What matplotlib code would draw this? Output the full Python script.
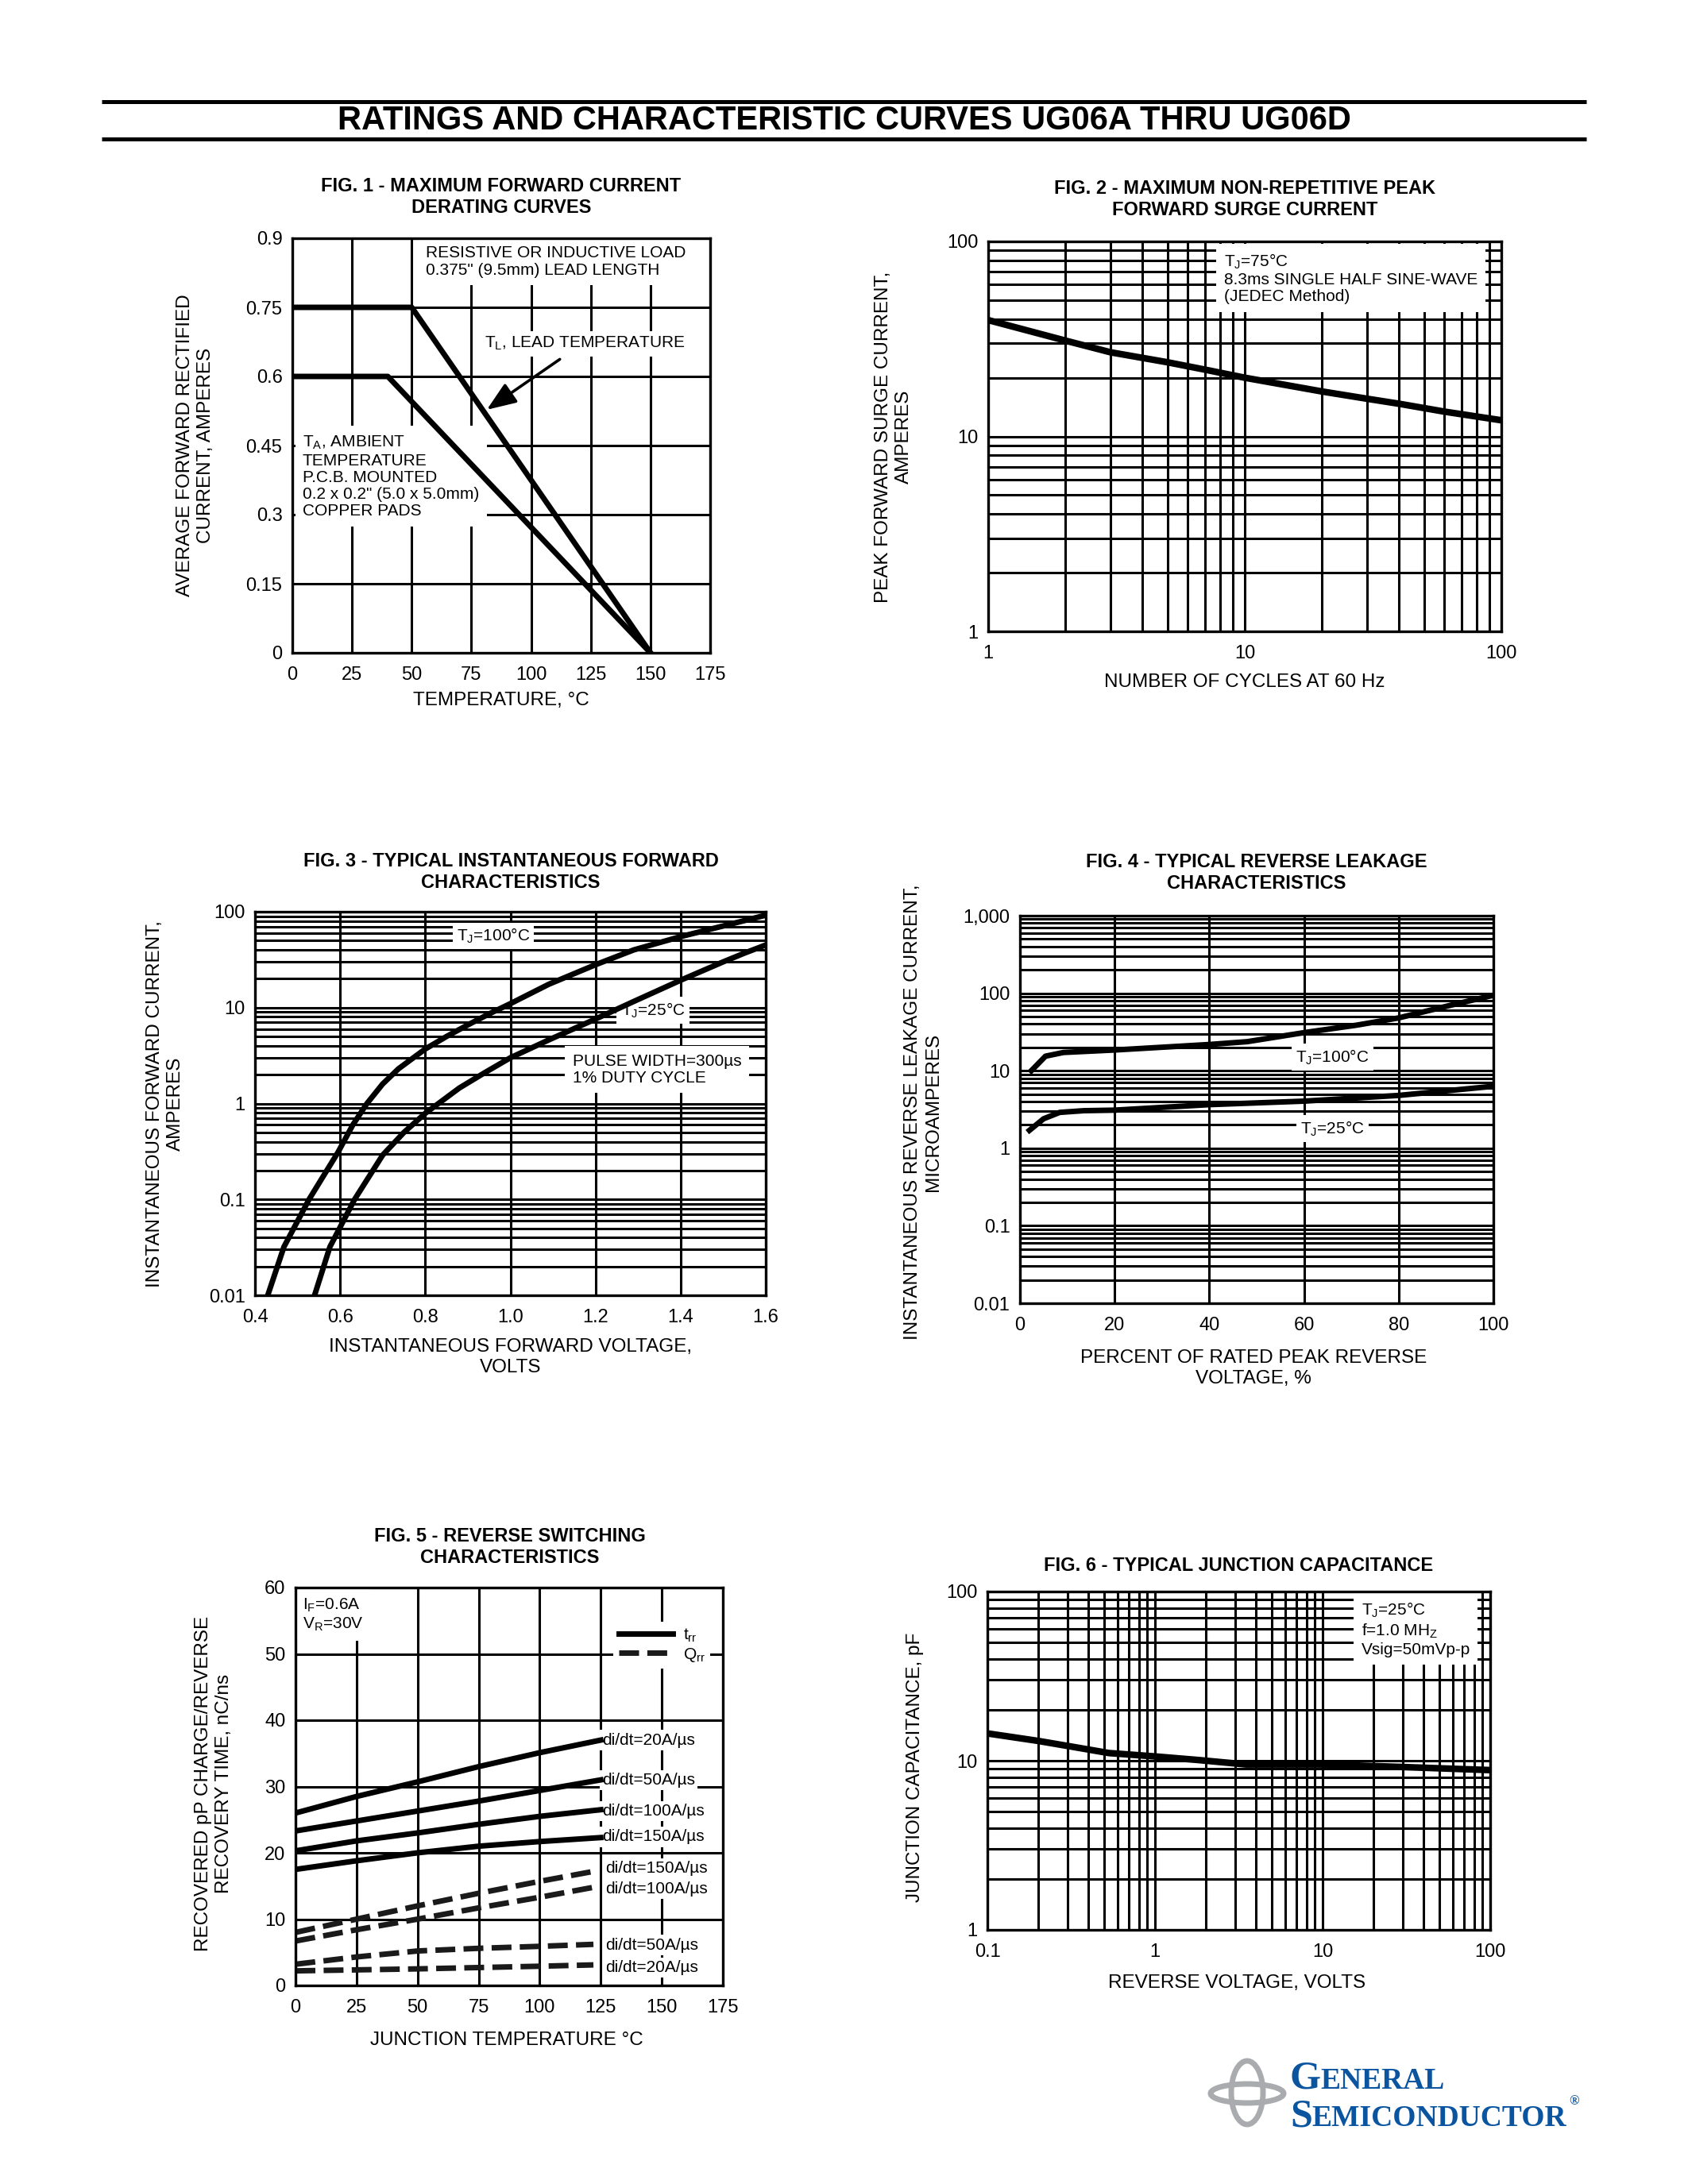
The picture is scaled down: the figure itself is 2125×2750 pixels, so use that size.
"""UG06A-UG06D ratings and characteristic curves page"""
import matplotlib
matplotlib.use("Agg")
import matplotlib.pyplot as plt
from matplotlib.patches import Ellipse
from matplotlib.ticker import LogLocator, NullFormatter
import numpy as np

W, H = 2125, 2750
plt.rcParams["font.family"] = ["Liberation Sans", "DejaVu Sans"]
plt.rcParams["mathtext.default"] = "regular"

# ---- data ----
# Fig 1 derating
F1_TL_T = [0, 50, 150]
F1_TL_I = [0.75, 0.75, 0.0]
F1_TA_T = [0, 40, 150]
F1_TA_I = [0.60, 0.60, 0.0]
F1_XTICKS = [0, 25, 50, 75, 100, 125, 150, 175]
F1_YTICKS = [0, 0.15, 0.3, 0.45, 0.6, 0.75, 0.9]
F1_YLABELS = ["0", "0.15", "0.3", "0.45", "0.6", "0.75", "0.9"]

# Fig 2 surge current
F2_CYCLES = [1, 2, 3, 5, 7, 10, 20, 30, 40, 60, 100]
F2_AMPS = [39.5, 31.0, 27.0, 24.0, 22.0, 20.0, 17.0, 15.6, 14.7, 13.4, 12.1]

# Fig 3 forward characteristics
F3_V100 = [0.43, 0.468, 0.527, 0.595, 0.63, 0.663, 0.70, 0.737, 0.80, 0.85, 0.90, 0.95,
           1.0, 1.09, 1.2, 1.29, 1.4, 1.5, 1.6]
F3_I100 = [0.01, 0.032, 0.1, 0.31, 0.6, 1.0, 1.6, 2.3, 3.7, 5.0, 6.6, 8.6,
           11.0, 17.5, 28.0, 40.0, 55.0, 71.0, 92.0]
F3_V25 = [0.54, 0.576, 0.634, 0.70, 0.75, 0.80, 0.88, 0.94, 1.0, 1.09, 1.2, 1.29,
          1.4, 1.5, 1.55, 1.6]
F3_I25 = [0.01, 0.032, 0.1, 0.29, 0.5, 0.79, 1.45, 2.1, 3.0, 4.6, 7.6, 11.6,
          19.3, 30.0, 37.0, 45.0]
F3_XTICKS = [0.4, 0.6, 0.8, 1.0, 1.2, 1.4, 1.6]
F3_XLABELS = ["0.4", "0.6", "0.8", "1.0", "1.2", "1.4", "1.6"]
F3_YTICKS = [0.01, 0.1, 1, 10, 100]
F3_YLABELS = ["0.01", "0.1", "1", "10", "100"]

# Fig 4 reverse leakage
F4_P100 = [2.4, 5.4, 9.2, 20, 40, 48, 60, 71, 80, 91, 100]
F4_I100 = [10.0, 15.4, 17.2, 18.5, 21.8, 23.7, 31.0, 38.6, 48.0, 70.0, 94.0]
F4_P25 = [2, 5, 8.4, 13.5, 20, 40, 60, 80, 100]
F4_I25 = [1.7, 2.4, 2.9, 3.05, 3.1, 3.65, 4.05, 4.8, 6.3]
F4_XTICKS = [0, 20, 40, 60, 80, 100]
F4_YTICKS = [0.01, 0.1, 1, 10, 100, 1000]
F4_YLABELS = ["0.01", "0.1", "1", "10", "100", "1,000"]

# Fig 5 reverse switching
F5_T_TRR = [0, 25, 50, 75, 100, 125]
F5_TRR = {
    "di/dt=20A/µs": [26.0, 28.5, 30.7, 33.0, 35.1, 37.0],
    "di/dt=50A/µs": [23.3, 24.8, 26.3, 27.8, 29.4, 31.0],
    "di/dt=100A/µs": [20.3, 21.8, 23.0, 24.3, 25.5, 26.5],
    "di/dt=150A/µs": [17.5, 18.8, 20.0, 21.0, 21.7, 22.3],
}
F5_T_QRR = [0, 25, 50, 75, 100, 122]
F5_QRR = {
    "di/dt=150A/µs": [8.0, 10.0, 12.0, 13.9, 15.7, 17.2],
    "di/dt=100A/µs": [6.7, 8.4, 10.0, 11.7, 13.3, 14.8],
    "di/dt=50A/µs": [3.2, 4.3, 5.2, 5.6, 5.9, 6.2],
    "di/dt=20A/µs": [2.2, 2.35, 2.5, 2.7, 2.9, 3.1],
}
F5_TRR_LABEL_Y = [37.0, 31.0, 26.3, 22.4]
F5_QRR_LABEL_Y = [17.7, 14.6, 6.1, 2.65]
F5_XTICKS = [0, 25, 50, 75, 100, 125, 150, 175]
F5_YTICKS = [0, 10, 20, 30, 40, 50, 60]

# Fig 6 junction capacitance
F6_V = [0.1, 0.2, 0.32, 0.53, 1.0, 1.8, 3.5, 10, 28, 100]
F6_C = [14.5, 13.1, 12.1, 11.1, 10.6, 10.1, 9.5, 9.5, 9.2, 8.8]

GRID_LW = 2.2
CURVE_LW = 5.0
TICK_FS = 17
LABEL_FS = 17.5
TITLE_FS = 17
NOTE_FS = 15
BOX = dict(boxstyle="square,pad=0.45", fc="white", ec="none")
TIGHT = dict(boxstyle="square,pad=0.25", fc="white", ec="none")
BLUE = "#0b55a0"
LOGO_GRAY = "#a9abae"

fig = plt.figure(figsize=(W / 100, H / 100), dpi=100, facecolor="white")

# decoration layer in page pixels
deco = fig.add_axes([0, 0, 1, 1])
deco.set_xlim(0, W)
deco.set_ylim(H, 0)
deco.axis("off")
deco.hlines([128, 175], 128, 1997, color="black", lw=3.6)
deco.text(1063, 152, "RATINGS AND CHARACTERISTIC CURVES UG06A THRU UG06D",
          ha="center", va="center", fontsize=30, fontweight="bold")


def add_ax(x0, y0, x1, y1):
    return fig.add_axes([x0 / W, 1 - y1 / H, (x1 - x0) / W, (y1 - y0) / H])


def style(ax):
    for s in ax.spines.values():
        s.set_linewidth(2.4)
        s.set_zorder(6)
    ax.tick_params(which="both", length=0, labelsize=TICK_FS, pad=9)
    ax.tick_params(axis="x", pad=12)
    ax.grid(True, which="both", color="black", lw=GRID_LW)
    ax.set_axisbelow(True)


def log_axis(axis, ticks, labels):
    axis.set_major_locator(LogLocator(base=10, numticks=20))
    axis.set_minor_locator(LogLocator(base=10, subs=np.arange(2, 10), numticks=50))
    axis.set_minor_formatter(NullFormatter())
    axis.set_ticks(ticks, labels)


def page_text(x, y, s, **kw):
    kw.setdefault("ha", "center")
    kw.setdefault("va", "center")
    kw.setdefault("fontsize", LABEL_FS)
    fig.text(x / W, 1 - y / H, s, **kw)


def title(x, y, s):
    page_text(x, y, s, fontsize=TITLE_FS, fontweight="bold", linespacing=1.25)


def ylabel(x, y, s):
    page_text(x, y, s, rotation=90, linespacing=1.25, multialignment="center")


# ---------------- Fig 1 ----------------
ax1 = add_ax(368, 300, 894, 822)
style(ax1)
ax1.plot(F1_TL_T, F1_TL_I, color="black", lw=CURVE_LW, zorder=5)
ax1.plot(F1_TA_T, F1_TA_I, color="black", lw=CURVE_LW, zorder=5)
ax1.set_xlim(0, 175)
ax1.set_ylim(0, 0.9)
ax1.set_xticks(F1_XTICKS)
ax1.set_yticks(F1_YTICKS, F1_YLABELS)
ax1.text(56, 0.885, "RESISTIVE OR INDUCTIVE LOAD\n0.375\" (9.5mm) LEAD LENGTH",
         ha="left", va="top", fontsize=NOTE_FS, linespacing=1.2, bbox=BOX, zorder=3)
ax1.text(80.5, 0.671, "T$_L$, LEAD TEMPERATURE", ha="left", va="center",
         fontsize=NOTE_FS, bbox=TIGHT, zorder=3)
ax1.annotate("", xy=(80.7, 0.525), xytext=(112.8, 0.64),
             arrowprops=dict(arrowstyle="-|>,head_length=0.9,head_width=0.35",
                             lw=2.6, color="black", mutation_scale=25), zorder=4)
ax1.text(4.3, 0.474, "T$_A$, AMBIENT\nTEMPERATURE\nP.C.B. MOUNTED\n0.2 x 0.2\" (5.0 x 5.0mm)\nCOPPER PADS",
         ha="left", va="top", fontsize=NOTE_FS, linespacing=1.15, bbox=BOX, zorder=3)
title(631, 248, "FIG. 1 - MAXIMUM FORWARD CURRENT\nDERATING CURVES")
ylabel(246, 561, "AVERAGE FORWARD RECTIFIED\nCURRENT, AMPERES")
page_text(631, 882, "TEMPERATURE, °C")

# ---------------- Fig 2 ----------------
ax2 = add_ax(1244, 304, 1890, 795)
ax2.set_xscale("log")
ax2.set_yscale("log")
style(ax2)
ax2.plot(F2_CYCLES, F2_AMPS, color="black", lw=6, zorder=5)
ax2.set_xlim(1, 100)
ax2.set_ylim(1, 100)
log_axis(ax2.xaxis, [1, 10, 100], ["1", "10", "100"])
log_axis(ax2.yaxis, [1, 10, 100], ["1", "10", "100"])
ax2.text(8.3, 88, "T$_J$=75°C\n8.3ms SINGLE HALF SINE-WAVE\n(JEDEC Method)",
         ha="left", va="top", fontsize=NOTE_FS, linespacing=1.15, bbox=BOX, zorder=3)
title(1567, 251, "FIG. 2 - MAXIMUM NON-REPETITIVE PEAK\nFORWARD SURGE CURRENT")
ylabel(1125, 550, "PEAK FORWARD SURGE CURRENT,\nAMPERES")
page_text(1567, 859, "NUMBER OF CYCLES AT 60 Hz")

# ---------------- Fig 3 ----------------
ax3 = add_ax(321, 1148, 964, 1631)
ax3.set_yscale("log")
style(ax3)
ax3.plot(F3_V100, F3_I100, color="black", lw=CURVE_LW, zorder=5, solid_joinstyle="round")
ax3.plot(F3_V25, F3_I25, color="black", lw=CURVE_LW, zorder=5, solid_joinstyle="round")
ax3.set_xlim(0.4, 1.6)
ax3.set_ylim(0.01, 100)
ax3.set_xticks(F3_XTICKS, F3_XLABELS)
log_axis(ax3.yaxis, F3_YTICKS, F3_YLABELS)
ax3.text(0.96, 56, "T$_J$=100°C", ha="center", va="center", fontsize=NOTE_FS,
         bbox=TIGHT, zorder=3)
ax3.text(1.335, 9.4, "T$_J$=25°C", ha="center", va="center", fontsize=NOTE_FS,
         bbox=TIGHT, zorder=3)
ax3.text(1.146, 2.25, "PULSE WIDTH=300µs\n1% DUTY CYCLE", ha="left", va="center",
         fontsize=NOTE_FS, linespacing=1.15, bbox=BOX, zorder=3)
title(643, 1098, "FIG. 3 - TYPICAL INSTANTANEOUS FORWARD\nCHARACTERISTICS")
ylabel(208, 1390, "INSTANTANEOUS FORWARD CURRENT,\nAMPERES")
page_text(643, 1709, "INSTANTANEOUS FORWARD VOLTAGE,\nVOLTS", linespacing=1.2)

# ---------------- Fig 4 ----------------
ax4 = add_ax(1284, 1153, 1880, 1641)
ax4.set_yscale("log")
style(ax4)
ax4.plot(F4_P100, F4_I100, color="black", lw=CURVE_LW, zorder=5, solid_joinstyle="round")
ax4.plot(F4_P25, F4_I25, color="black", lw=CURVE_LW, zorder=5, solid_joinstyle="round")
ax4.set_xlim(0, 100)
ax4.set_ylim(0.01, 1000)
ax4.set_xticks(F4_XTICKS)
log_axis(ax4.yaxis, F4_YTICKS, F4_YLABELS)
ax4.text(66, 15, "T$_J$=100°C", ha="center", va="center", fontsize=NOTE_FS,
         bbox=TIGHT, zorder=3)
ax4.text(66, 1.8, "T$_J$=25°C", ha="center", va="center", fontsize=NOTE_FS,
         bbox=TIGHT, zorder=3)
title(1582, 1099, "FIG. 4 - TYPICAL REVERSE LEAKAGE\nCHARACTERISTICS")
ylabel(1162, 1400, "INSTANTANEOUS REVERSE LEAKAGE CURRENT,\nMICROAMPERES")
page_text(1578, 1723, "PERCENT OF RATED PEAK REVERSE\nVOLTAGE, %", linespacing=1.2)

# ---------------- Fig 5 ----------------
ax5 = add_ax(372, 1999, 910, 2500)
style(ax5)
for i, (name, vals) in enumerate(F5_TRR.items()):
    ax5.plot(F5_T_TRR, vals, color="black", lw=CURVE_LW, zorder=5,
             label="t$_{rr}$" if i == 0 else None)
    ax5.text(125.5, F5_TRR_LABEL_Y[i], name, ha="left", va="center", fontsize=NOTE_FS,
             bbox=dict(boxstyle="square,pad=0.15", fc="white", ec="none"), zorder=3)
for i, (name, vals) in enumerate(F5_QRR.items()):
    ax5.plot(F5_T_QRR, vals, color="#1a1a1a", lw=CURVE_LW, zorder=5,
             linestyle=(0, (3.6, 1.5)), label="Q$_{rr}$" if i == 0 else None)
    ax5.text(127, F5_QRR_LABEL_Y[i], name, ha="left", va="center", fontsize=NOTE_FS,
             bbox=dict(boxstyle="square,pad=0.15", fc="white", ec="none"), zorder=3)
ax5.set_xlim(0, 175)
ax5.set_ylim(0, 60)
ax5.set_xticks(F5_XTICKS)
ax5.set_yticks(F5_YTICKS)
ax5.text(3, 58.6, "I$_F$=0.6A\nV$_R$=30V", ha="left", va="top", fontsize=NOTE_FS,
         linespacing=1.2, bbox=BOX, zorder=3)
leg = ax5.legend(loc="upper right", bbox_to_anchor=(0.99, 0.935), fontsize=NOTE_FS,
                 handlelength=3.3, handletextpad=0.6, labelspacing=0.15,
                 borderpad=0.3, frameon=True, fancybox=False)
leg.get_frame().set_facecolor("white")
leg.get_frame().set_edgecolor("none")
leg.get_frame().set_alpha(1)
leg.set_zorder(7)
title(642, 1948, "FIG. 5 - REVERSE SWITCHING\nCHARACTERISTICS")
ylabel(269, 2246, "RECOVERED pP CHARGE/REVERSE\nRECOVERY TIME, nC/ns")
page_text(638, 2569, "JUNCTION TEMPERATURE °C")

# ---------------- Fig 6 ----------------
ax6 = add_ax(1243, 2004, 1876, 2430)
ax6.set_xscale("log")
ax6.set_yscale("log")
style(ax6)
ax6.plot(F6_V, F6_C, color="black", lw=6, zorder=5, solid_joinstyle="round")
ax6.set_xlim(0.1, 100)
ax6.set_ylim(1, 100)
log_axis(ax6.xaxis, [0.1, 1, 10, 100], ["0.1", "1", "10", "100"])
log_axis(ax6.yaxis, [1, 10, 100], ["1", "10", "100"])
ax6.text(17, 88, "T$_J$=25°C\nf=1.0 MH$_Z$\nVsig=50mVp-p", ha="left", va="top",
         fontsize=NOTE_FS, linespacing=1.2, bbox=BOX, zorder=3)
title(1559, 1972, "FIG. 6 - TYPICAL JUNCTION CAPACITANCE")
ylabel(1152, 2225, "JUNCTION CAPACITANCE, pF")
page_text(1557, 2497, "REVERSE VOLTAGE, VOLTS")

# ---------------- logo ----------------
deco.add_patch(Ellipse((1570, 2635), 40, 80, fill=False, ec=LOGO_GRAY, lw=5))
deco.add_patch(Ellipse((1570, 2636), 92, 24, fill=False, ec=LOGO_GRAY, lw=5))
serif = ["Liberation Serif", "DejaVu Serif"]
renderer = fig.canvas.get_renderer()


def small_caps(x, y, parts):
    # place text pieces one after another, measuring each
    for s, fs in parts:
        t = deco.text(x, y, s, family=serif, fontweight="bold", fontsize=fs,
                      color=BLUE, ha="left", va="baseline")
        x += t.get_window_extent(renderer=renderer).width
    return x


small_caps(1623, 2630, [("G", 36), ("ENERAL", 27)])
end = small_caps(1624, 2677, [("S", 36), ("EMICONDUCTOR", 27)])
deco.text(end + 3, 2650, "®", family=serif, fontweight="bold", fontsize=12, color=BLUE,
          ha="left", va="baseline")

fig.savefig("out.png", dpi=100, facecolor="white")
